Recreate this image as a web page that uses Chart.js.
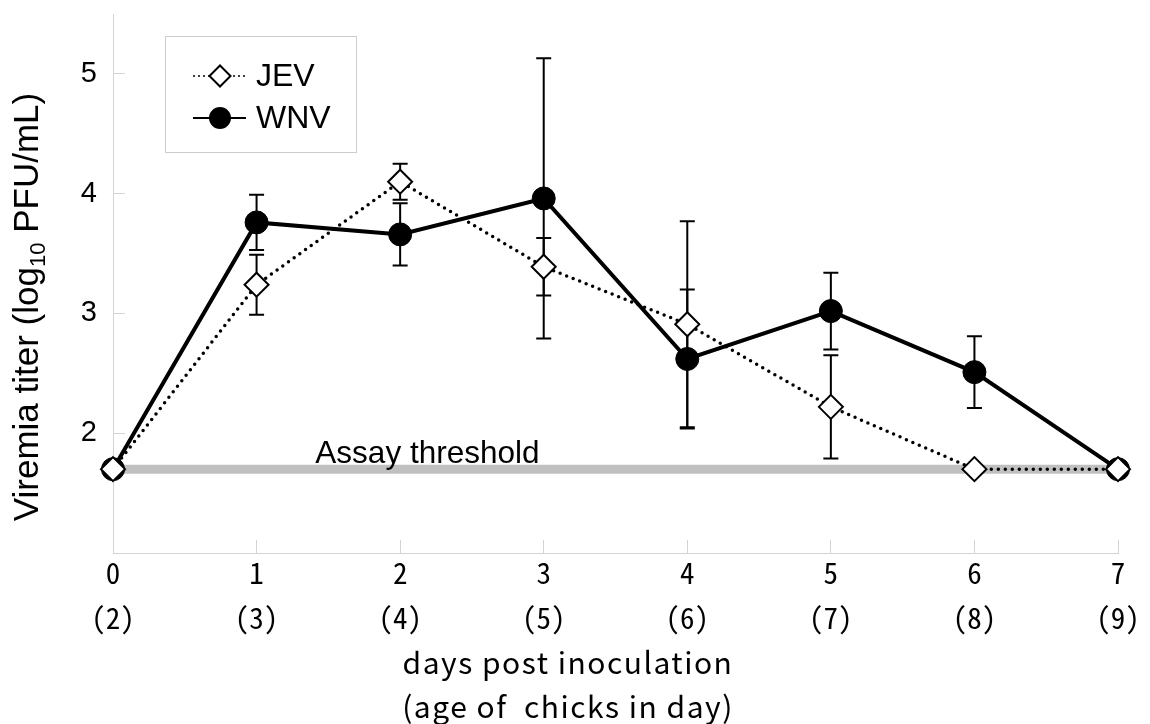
<!DOCTYPE html>
<html>
<head>
<meta charset="utf-8">
<script src="https://cdn.jsdelivr.net/npm/chart.js@4.4.1/dist/chart.umd.min.js"></script>
<style>
  html, body { margin: 0; padding: 0; background: #fff; }
</style>
</head>
<body>
<canvas id="viremia" width="1150" height="724"></canvas>
<script>
const days = ["0", "1", "2", "3", "4", "5", "6", "7"];
const ages = ["(2)", "(3)", "(4)", "(5)", "(6)", "(7)", "(8)", "(9)"];
const jevTiter = [1.7, 3.24, 4.1, 3.39, 2.91, 2.22, 1.7, 1.7];
const jevError = [0, 0.25, 0.15, 0.24, 0.86, 0.43, 0, 0];
const wnvTiter = [1.7, 3.76, 3.66, 3.96, 2.62, 3.02, 2.51, 1.7];
const wnvError = [0, 0.23, 0.26, 1.17, 0.58, 0.32, 0.3, 0];
const assayThreshold = 1.7;
const yTicks = [2, 3, 4, 5];
const xTitle = ["days post inoculation", "(age of  chicks in day)"];

const latin = '"Liberation Sans", Arial, sans-serif';
const gothic = '"Noto Sans CJK JP", sans-serif';
const gothicMono = '"Noto Sans Mono CJK JP", "Noto Sans CJK JP", monospace';
const axisGray = "#d4d4d4";

// threshold band + error bars go under the lines and markers
const underLayer = {
  id: "underLayer",
  beforeDatasetsDraw(chart) {
    const { ctx, chartArea } = chart;
    const x = chart.scales.x;
    const y = chart.scales.y;
    ctx.save();
    const ty = y.getPixelForValue(assayThreshold);
    ctx.strokeStyle = "#c0c0c0";
    ctx.lineWidth = 9;
    ctx.beginPath();
    ctx.moveTo(chartArea.left, ty);
    ctx.lineTo(chartArea.right, ty);
    ctx.stroke();

    ctx.fillStyle = "#000";
    ctx.font = "31.5px " + latin;
    ctx.textAlign = "center";
    ctx.textBaseline = "alphabetic";
    ctx.fillText("Assay threshold", x.getPixelForValue(2.19), ty - 6);

    ctx.strokeStyle = "#000";
    ctx.lineWidth = 2;
    [[jevTiter, jevError], [wnvTiter, wnvError]].forEach(([vals, errs]) => {
      vals.forEach((v, i) => {
        if (!errs[i]) return;
        const px = x.getPixelForValue(i);
        const top = y.getPixelForValue(v + errs[i]);
        const bot = y.getPixelForValue(v - errs[i]);
        ctx.beginPath();
        ctx.moveTo(px, top);
        ctx.lineTo(px, bot);
        ctx.moveTo(px - 7.5, top);
        ctx.lineTo(px + 7.5, top);
        ctx.moveTo(px - 7.5, bot);
        ctx.lineTo(px + 7.5, bot);
        ctx.stroke();
      });
    });
    ctx.restore();
  },
};

// boxed legend with line + marker samples, axis titles
const overLayer = {
  id: "overLayer",
  afterDraw(chart) {
    const { ctx, chartArea } = chart;
    ctx.save();
    const bx = chartArea.left + 52;
    const by = chartArea.top + 22;
    ctx.strokeStyle = "#cccccc";
    ctx.lineWidth = 1;
    ctx.strokeRect(bx + 0.5, by + 0.5, 191, 116);

    const rows = [
      { label: "JEV", dy: 40, dash: [2, 3], width: 1.5, style: "rectRot", r: 10.5, fill: "#fff" },
      { label: "WNV", dy: 82, dash: [], width: 2, style: "circle", r: 10, fill: "#000" },
    ];
    rows.forEach((row) => {
      const ly = by + row.dy;
      ctx.setLineDash(row.dash);
      ctx.strokeStyle = "#000";
      ctx.lineWidth = row.width;
      ctx.beginPath();
      ctx.moveTo(bx + 28, ly);
      ctx.lineTo(bx + 81, ly);
      ctx.stroke();
      ctx.setLineDash([]);
      ctx.fillStyle = row.fill;
      ctx.lineWidth = 2;
      Chart.helpers.drawPoint(ctx, { pointStyle: row.style, radius: row.r, rotation: 0, borderWidth: 2 }, bx + 55, ly);
      ctx.fillStyle = "#000";
      ctx.font = "32px " + latin;
      ctx.textAlign = "left";
      ctx.textBaseline = "middle";
      ctx.fillText(row.label, bx + 91, ly + 1);
    });

    // x axis title, sits a bit left of the plot centre
    ctx.save();
    ctx.font = "30px " + gothic;
    ctx.letterSpacing = "1.5px";
    ctx.textAlign = "center";
    ctx.textBaseline = "middle";
    xTitle.forEach((line, i) => {
      ctx.fillText(line, chartArea.left + 455, chartArea.bottom + 110 + i * 44);
    });
    ctx.restore();

    // y axis title with subscript
    const big = "35px " + latin;
    const small = "22px " + latin;
    const parts = [
      ["Viremia titer (log", big, 0],
      ["10", small, 7],
      [" PFU/mL)", big, 0],
    ];
    let total = 0;
    parts.forEach((p) => {
      ctx.font = p[1];
      p.push(ctx.measureText(p[0]).width);
      total += p[3];
    });
    ctx.translate(38, chartArea.top + 293);
    ctx.rotate(-Math.PI / 2);
    ctx.textAlign = "left";
    ctx.textBaseline = "alphabetic";
    let cx = -total / 2;
    parts.forEach((p) => {
      ctx.font = p[1];
      ctx.fillText(p[0], cx, p[2]);
      cx += p[3];
    });
    ctx.restore();
  },
};

new Chart(document.getElementById("viremia"), {
  type: "line",
  data: {
    labels: days,
    datasets: [
      {
        label: "JEV",
        data: jevTiter,
        borderColor: "#000",
        borderWidth: 3.5,
        borderDash: [0, 7],
        borderCapStyle: "round",
        tension: 0,
        pointStyle: "rectRot",
        pointRadius: 12,
        pointBackgroundColor: "#fff",
        pointBorderColor: "#000",
        pointBorderWidth: 2,
      },
      {
        label: "WNV",
        data: wnvTiter,
        borderColor: "#000",
        borderWidth: 4,
        tension: 0,
        pointStyle: "circle",
        pointRadius: 11.5,
        pointBackgroundColor: "#000",
        pointBorderColor: "#000",
        pointBorderWidth: 1,
      },
    ],
  },
  options: {
    responsive: false,
    animation: false,
    layout: { padding: { top: 8, right: 32, left: 0, bottom: 0 } },
    plugins: {
      legend: { display: false },
      tooltip: { enabled: false },
    },
    scales: {
      x: {
        type: "category",
        offset: false,
        border: { color: axisGray, width: 1 },
        grid: { drawOnChartArea: false, tickLength: -13, color: axisGray },
        ticks: {
          autoSkip: false,
          maxRotation: 0,
          padding: 10.5,
          color: "#000",
          font: { family: gothicMono, size: 29, lineHeight: 1.55 },
          callback: (v, i) => [days[i], ages[i]],
        },
        afterFit: (scale) => {
          scale.height = 171;
          scale.paddingLeft = 0;
          scale.paddingRight = 0;
        },
      },
      y: {
        min: 1,
        max: 5.5,
        border: { color: axisGray, width: 1 },
        grid: { drawOnChartArea: false, tickLength: -12, color: axisGray },
        ticks: {
          padding: 28,
          color: "#000",
          font: { family: latin, size: 29 },
        },
        afterBuildTicks: (scale) => {
          scale.ticks = yTicks.map((v) => ({ value: v }));
        },
        afterFit: (scale) => {
          scale.width = 113;
          scale.paddingTop = 0;
          scale.paddingBottom = 0;
        },
      },
    },
  },
  plugins: [underLayer, overLayer],
});
</script>
</body>
</html>
